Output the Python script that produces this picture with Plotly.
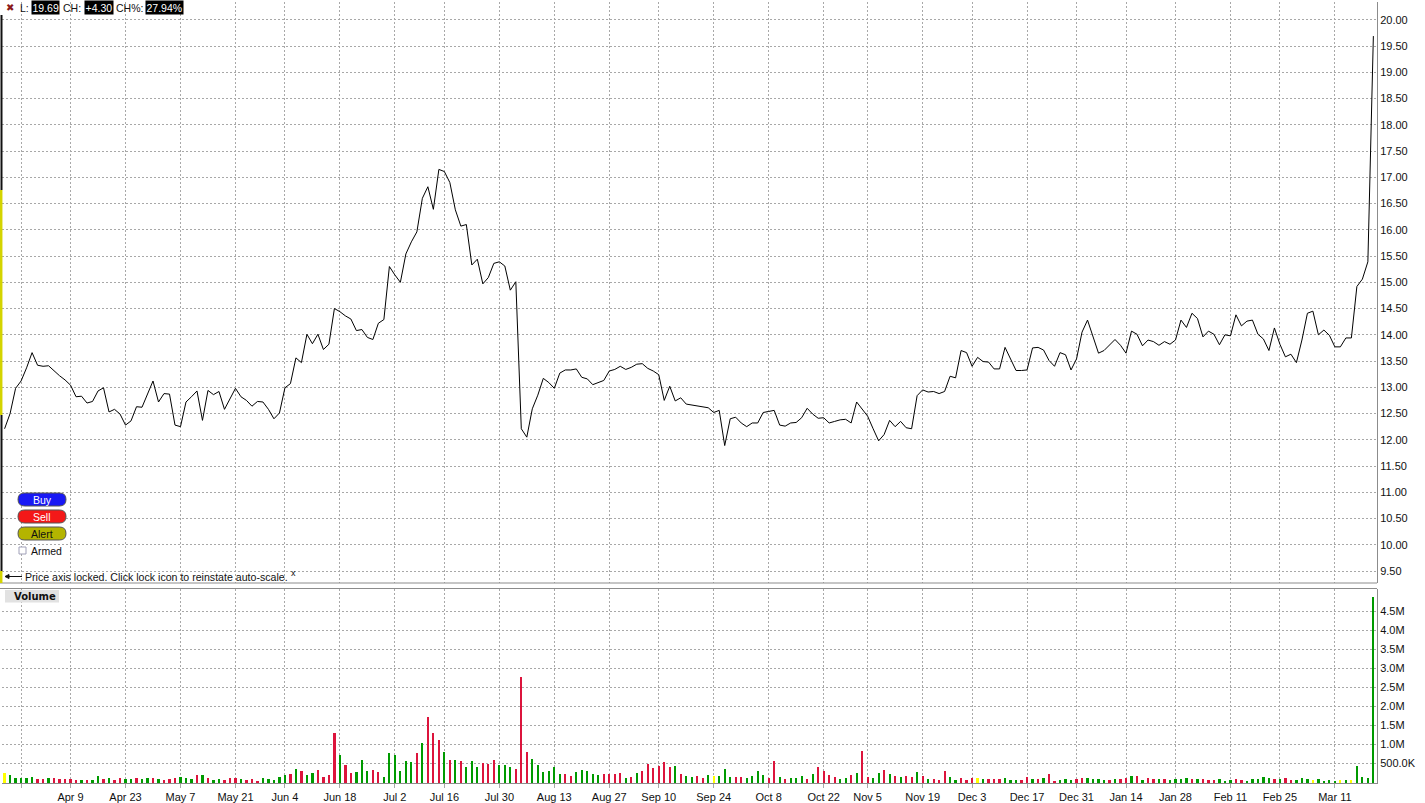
import pandas as pd
import plotly.graph_objects as go

W, H = 1425, 803

# ---------------- data ----------------
holidays = ["2012-04-06", "2012-05-28", "2012-07-04", "2012-09-03", "2012-10-29",
            "2012-10-30", "2012-11-22", "2012-12-25", "2013-01-01", "2013-01-21", "2013-02-18"]
dates = [d.strftime("%Y-%m-%d") for d in
         pd.bdate_range("2012-03-21", "2013-03-20", freq="C", holidays=holidays)]

close = [
    12.21, 12.50, 12.98, 13.12, 13.37, 13.66, 13.42, 13.40, 13.41, 13.31,
    13.22, 13.14, 13.04, 12.82, 12.83, 12.70, 12.73, 12.93, 12.99, 12.53,
    12.58, 12.49, 12.28, 12.36, 12.63, 12.62, 12.86, 13.12, 12.72, 12.88,
    12.87, 12.28, 12.25, 12.72, 12.82, 12.93, 12.37, 12.94, 12.86, 12.92,
    12.58, 12.79, 12.98, 12.82, 12.75, 12.64, 12.73, 12.72, 12.58, 12.40,
    12.51, 12.99, 13.07, 13.56, 13.47, 14.01, 13.83, 14.01, 13.72, 13.82,
    14.50, 14.44, 14.36, 14.30, 14.08, 14.10, 13.95, 13.91, 14.22, 14.29,
    15.30, 15.14, 15.00, 15.54, 15.77, 15.96, 16.60, 16.82, 16.39, 17.15,
    17.11, 16.90, 16.38, 16.07, 16.10, 15.33, 15.44, 14.97, 15.09, 15.36,
    15.39, 15.31, 14.85, 15.01, 12.21, 12.05, 12.59, 12.85, 13.17, 13.09,
    12.98, 13.27, 13.33, 13.33, 13.35, 13.19, 13.16, 13.05, 13.09, 13.13,
    13.31, 13.34, 13.40, 13.34, 13.38, 13.44, 13.45, 13.36, 13.31, 13.24,
    12.75, 13.02, 12.74, 12.80, 12.68, 12.66, 12.64, 12.63, 12.61, 12.52,
    12.56, 11.89, 12.40, 12.43, 12.32, 12.25, 12.32, 12.32, 12.52, 12.54,
    12.56, 12.28, 12.26, 12.32, 12.33, 12.42, 12.60, 12.49, 12.41, 12.42,
    12.32, 12.35, 12.38, 12.39, 12.32, 12.72, 12.59, 12.45, 12.21, 11.98,
    12.10, 12.37, 12.25, 12.35, 12.23, 12.21, 12.84, 12.95, 12.91, 12.92,
    12.88, 12.92, 13.21, 13.18, 13.70, 13.66, 13.40, 13.57, 13.49, 13.48,
    13.35, 13.35, 13.76, 13.55, 13.32, 13.32, 13.33, 13.75, 13.76, 13.71,
    13.51, 13.40, 13.66, 13.62, 13.33, 13.54, 14.05, 14.28, 13.98, 13.65,
    13.70, 13.80, 13.91, 13.80, 13.65, 14.07, 14.01, 13.79, 13.90, 13.87,
    13.80, 13.87, 13.82, 13.90, 14.28, 14.14, 14.41, 14.31, 13.96, 14.07,
    14.01, 13.81, 14.00, 13.98, 14.38, 14.17, 14.26, 14.28, 14.01, 13.92,
    13.70, 14.13, 13.82, 13.58, 13.63, 13.47, 13.90, 14.41, 14.45, 14.00,
    14.09, 13.99, 13.77, 13.77, 13.94, 13.94, 14.92, 15.06, 15.39, 19.69,
]

volume_k = [
    246, 193, 114, 132, 114, 140, 88, 88, 114, 114,
    88, 88, 88, 61, 61, 61, 61, 167, 88, 114,
    61, 114, 88, 88, 114, 88, 114, 114, 88, 61,
    88, 114, 140, 114, 88, 193, 193, 114, 61, 88,
    61, 114, 114, 88, 61, 88, 35, 114, 88, 61,
    140, 193, 219, 351, 298, 193, 246, 325, 140, 193,
    1300, 719, 456, 246, 272, 588, 298, 325, 272, 140,
    772, 719, 298, 561, 535, 772, 1035, 1720, 1300, 1114,
    798, 588, 588, 561, 404, 561, 404, 509, 482, 588,
    456, 456, 404, 351, 2770, 798, 614, 456, 272, 298,
    404, 219, 219, 167, 272, 325, 298, 219, 193, 219,
    219, 219, 246, 114, 140, 246, 298, 482, 377, 430,
    535, 404, 430, 219, 167, 140, 167, 114, 193, 167,
    167, 351, 140, 140, 140, 114, 167, 298, 193, 114,
    561, 140, 88, 114, 114, 167, 88, 219, 404, 298,
    193, 140, 88, 114, 193, 246, 825, 140, 114, 246,
    325, 219, 167, 140, 167, 140, 272, 167, 88, 88,
    61, 298, 140, 61, 114, 61, 114, 114, 88, 88,
    88, 88, 114, 61, 61, 61, 140, 88, 88, 114,
    219, 35, 61, 88, 61, 88, 114, 114, 88, 88,
    61, 61, 88, 88, 114, 167, 167, 61, 114, 88,
    88, 88, 61, 88, 88, 114, 88, 88, 88, 61,
    61, 88, 35, 61, 88, 61, 35, 88, 88, 140,
    114, 88, 88, 114, 61, 61, 114, 88, 61, 88,
    35, 61, 35, 61, 61, 61, 439, 140, 114, 4870,
]

# bar direction: g = up, r = down, y = unchanged
vol_dir = (
    "yggggg rrgrrrr rgrggr grrggrggr grrrggg rgrgg rrrgrrrg ggggrgrg g"
    "rrrrgrrgggrrggggg grgrrrgrgrggg rrrgggrrrggggggrrggggg rrrrgrgrrrrrrg"
    "rggrrgygggrrgggg rrgrggg rgrrrrgg rgrrgg rgrgrrgrgrrrggrrrygrrrg"
    "ggrrgrgrrgggrrgggg rgrrgrgrrgrgggg rgrrrgggrrgggggrgrrgggy gggg"
).replace(" ", "")

tick_dates = ["2012-03-26", "2012-04-09", "2012-04-23", "2012-05-07", "2012-05-21",
              "2012-06-04", "2012-06-18", "2012-07-02", "2012-07-16", "2012-07-30",
              "2012-08-13", "2012-08-27", "2012-09-10", "2012-09-24", "2012-10-08",
              "2012-10-22", "2012-11-05", "2012-11-19", "2012-12-03", "2012-12-17",
              "2012-12-31", "2013-01-14", "2013-01-28", "2013-02-11", "2013-02-25",
              "2013-03-11"]
tick_labels = ["", "Apr 9", "Apr 23", "May 7", "May 21", "Jun 4", "Jun 18", "Jul 2",
               "Jul 16", "Jul 30", "Aug 13", "Aug 27", "Sep 10", "Sep 24", "Oct 8",
               "Oct 22", "Nov 5", "Nov 19", "Dec 3", "Dec 17", "Dec 31", "Jan 14",
               "Jan 28", "Feb 11", "Feb 25", "Mar 11"]

price_ticks = [9.5 + 0.5 * k for k in range(22)]
vol_ticks = [500000 * k for k in range(1, 10)]
vol_tick_labels = ["500.0K", "1.0M", "1.5M", "2.0M", "2.5M", "3.0M", "3.5M", "4.0M", "4.5M"]

header = {"L": "19.69", "CH": "+4.30", "CH%": "27.94%"}

# ---------------- helpers ----------------
def fx(px):
    return px / W


def fy(py):
    return 1 - py / H


n = len(dates)
colmap = {"g": "#009a00", "r": "#dc143c", "y": "#ffff00"}
dirs = []
for i in range(n):
    if i < len(vol_dir):
        dirs.append(vol_dir[i])
    else:
        dirs.append("g" if close[i] > close[i - 1] else ("r" if close[i] < close[i - 1] else "y"))
bar_colors = [colmap[d] for d in dirs]
volume = [v * 1000 for v in volume_k]

GRID = "#a8a8a8"
x_lo, x_hi = -0.47, 249.66
FONT = "Liberation Sans, Arial"

fig = go.Figure()
fig.add_trace(go.Scatter(x=dates, y=close, mode="lines", line=dict(color="black", width=1),
                         xaxis="x", yaxis="y", hoverinfo="skip", showlegend=False))
fig.add_trace(go.Bar(x=dates, y=volume, marker=dict(color=bar_colors, line=dict(width=0)),
                     width=0.4, xaxis="x2", yaxis="y2", hoverinfo="skip", showlegend=False))

common_x = dict(type="category", range=[x_lo, x_hi], tickmode="array", tickvals=tick_dates,
                showgrid=True, gridcolor=GRID, griddash="2px,2px", gridwidth=1,
                zeroline=False, fixedrange=True)

fig.update_layout(
    width=W, height=H,
    margin=dict(l=0, r=0, t=0, b=0),
    paper_bgcolor="white", plot_bgcolor="white",
    bargap=0,
    xaxis=dict(**common_x, domain=[fx(2), fx(1377)], anchor="y", ticktext=[""] * len(tick_dates),
               showticklabels=False, showline=False),
    xaxis2=dict(**common_x, domain=[fx(2), fx(1377)], anchor="y2", ticktext=tick_labels,
                showticklabels=True, ticks="outside", ticklen=4, tickcolor=GRID,
                tickfont=dict(family=FONT, size=11, color="#111"),
                showline=True, linecolor="#8c8c8c", linewidth=1),
    yaxis=dict(domain=[fy(583), fy(2)], range=[9.272, 20.339], side="right", anchor="x",
               tickmode="array", tickvals=price_ticks, ticktext=["%.2f" % v for v in price_ticks],
               showgrid=True, gridcolor=GRID, griddash="2px,2px", zeroline=False,
               showline=True, linecolor="#8c8c8c", linewidth=1, ticks="",
               tickfont=dict(family=FONT, size=11, color="#111"),
               fixedrange=True),
    yaxis2=dict(domain=[fy(783), fy(589)], range=[-7900, 5081000], side="right", anchor="x2",
                tickmode="array", tickvals=vol_ticks, ticktext=vol_tick_labels,
                showgrid=True, gridcolor=GRID, griddash="2px,2px", zeroline=False,
                showline=True, linecolor="#8c8c8c", linewidth=1, ticks="",
                tickfont=dict(family=FONT, size=11, color="#111"),
                fixedrange=True),
)

shapes = []
ann = []

# panel separators
shapes.append(dict(type="line", xref="paper", yref="paper", x0=fx(0), x1=fx(1377),
                   y0=fy(583), y1=fy(583), line=dict(color="#8c8c8c", width=1)))
shapes.append(dict(type="line", xref="paper", yref="paper", x0=fx(0), x1=fx(1377),
                   y0=fy(588.5), y1=fy(588.5), line=dict(color="#8c8c8c", width=1)))
# left edge indicator
shapes.append(dict(type="line", xref="paper", yref="paper", x0=fx(1.5), x1=fx(1.5),
                   y0=fy(15), y1=fy(190), line=dict(color="#111", width=2)))
shapes.append(dict(type="line", xref="paper", yref="paper", x0=fx(1.2), x1=fx(1.2),
                   y0=fy(190), y1=fy(415), line=dict(color="#d4d400", width=2.5)))
shapes.append(dict(type="line", xref="paper", yref="paper", x0=fx(1.5), x1=fx(1.5),
                   y0=fy(415), y1=fy(571), line=dict(color="#111", width=2)))
shapes.append(dict(type="line", xref="paper", yref="paper", x0=fx(1.2), x1=fx(1.2),
                   y0=fy(571), y1=fy(583), line=dict(color="#d4d400", width=2.5)))

# header
HF = dict(size=10.5, family=FONT)
ann.append(dict(x=fx(10), y=fy(7.5), text="✖", font=dict(size=10, color="#8b1a1a", family="DejaVu Sans")))
ann.append(dict(x=fx(18), y=fy(7.5), text="L:", xanchor="left", font=dict(**HF, color="#111")))
ann.append(dict(x=fx(31), y=fy(7.5), text=header["L"], xanchor="left", bgcolor="black",
                borderpad=0.5, font=dict(**HF, color="white")))
ann.append(dict(x=fx(61), y=fy(7.5), text="CH:", xanchor="left", font=dict(**HF, color="#111")))
ann.append(dict(x=fx(84), y=fy(7.5), text=header["CH"], xanchor="left", bgcolor="black",
                borderpad=0.5, font=dict(**HF, color="white")))
ann.append(dict(x=fx(114), y=fy(7.5), text="CH%:", xanchor="left", font=dict(**HF, color="#111")))
ann.append(dict(x=fx(145), y=fy(7.5), text=header["CH%"], xanchor="left", bgcolor="black",
                borderpad=0.5, font=dict(**HF, color="white")))


def pill(x0, x1, y0, y1):
    r = (y1 - y0) / 2
    ym = (y0 + y1) / 2
    pts = [("M", [(x0 + r, y0)]), ("L", [(x1 - r, y0)]), ("Q", [(x1, y0), (x1, ym)]),
           ("Q", [(x1, y1), (x1 - r, y1)]), ("L", [(x0 + r, y1)]), ("Q", [(x0, y1), (x0, ym)]),
           ("Q", [(x0, y0), (x0 + r, y0)])]
    s = ""
    for cmd, ps in pts:
        s += cmd + " " + " ".join("%.6f,%.6f" % (fx(a), fy(b)) for a, b in ps) + " "
    return s + "Z"


buttons = [("Buy", 493, "#1818f4", "white"), ("Sell", 510, "#f41818", "white"),
           ("Alert", 527, "#b4b400", "#111")]
for label, top, fill, tcol in buttons:
    shapes.append(dict(type="path", xref="paper", yref="paper", path=pill(18, 66, top, top + 13),
                       fillcolor=fill, line=dict(color="#555", width=1)))
    ann.append(dict(x=fx(42), y=fy(top + 6.5), text=label,
                    font=dict(size=10.5, color=tcol, family=FONT)))

# Armed checkbox
shapes.append(dict(type="rect", xref="paper", yref="paper", x0=fx(19), x1=fx(26),
                   y0=fy(547), y1=fy(554), fillcolor="white", line=dict(color="#a0a0b8", width=1)))
ann.append(dict(x=fx(29), y=fy(550.5), text="Armed", xanchor="left",
                font=dict(size=10.5, color="#111", family=FONT)))

# price axis locked note
shapes.append(dict(type="line", xref="paper", yref="paper", x0=fx(7), x1=fx(22),
                   y0=fy(576.5), y1=fy(576.5), line=dict(color="#111", width=1)))
shapes.append(dict(type="path", xref="paper", yref="paper",
                   path="M %.6f,%.6f L %.6f,%.6f L %.6f,%.6f Z" % (fx(5), fy(576.5), fx(9), fy(574.5), fx(9), fy(578.5)),
                   fillcolor="#111", line=dict(color="#111", width=1)))
ann.append(dict(x=fx(23), y=fy(576.5), text="Price axis locked. Click lock icon to reinstate auto-scale.",
                xanchor="left", font=dict(size=10.6, color="#111", family=FONT)))
ann.append(dict(x=fx(293), y=fy(573), text="x", font=dict(size=9, color="#111", family=FONT)))

# Volume label
shapes.append(dict(type="rect", xref="paper", yref="paper", x0=fx(5), x1=fx(59),
                   y0=fy(590), y1=fy(602.5), fillcolor="#e2e2e2", line=dict(width=0)))
ann.append(dict(x=fx(12), y=fy(596.5), text="<b>Volume</b>", xanchor="left",
                font=dict(size=10, color="#111", family="DejaVu Sans")))

for a in ann:
    a.setdefault("xref", "paper")
    a.setdefault("yref", "paper")
    a.setdefault("showarrow", False)
    a.setdefault("xanchor", "center")
    a.setdefault("yanchor", "middle")
    a.setdefault("borderpad", 1)

fig.update_layout(shapes=shapes, annotations=ann)
fig.write_html("out.html", config={"displayModeBar": False},
               post_script="document.body.style.margin='0';document.body.style.padding='0';"
                           "document.documentElement.style.overflow='hidden';")
